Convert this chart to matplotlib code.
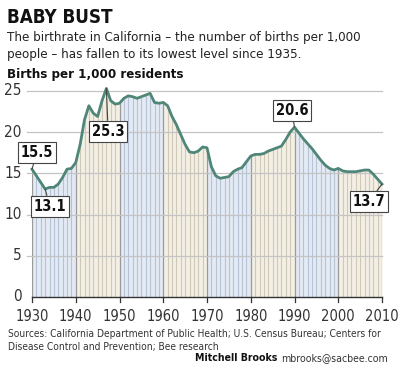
import matplotlib
matplotlib.use("Agg")
import matplotlib.pyplot as plt
import numpy as np

years = list(range(1930, 2011))
births = [15.5, 14.7, 13.9, 13.1, 13.3, 13.3, 13.7, 14.5, 15.5, 15.6,
          16.3, 18.5, 21.5, 23.2, 22.3, 21.9, 23.8, 25.3, 23.8, 23.4,
          23.5, 24.1, 24.4, 24.3, 24.1, 24.3, 24.5, 24.7, 23.6, 23.5,
          23.6, 23.2, 21.9, 20.9, 19.7, 18.5, 17.6, 17.5, 17.7, 18.2,
          18.1, 15.8, 14.7, 14.4, 14.5, 14.6, 15.2, 15.5, 15.7, 16.4,
          17.1, 17.3, 17.3, 17.4, 17.7, 17.9, 18.1, 18.3, 19.1, 20.0,
          20.6, 19.9, 19.2, 18.6, 18.0, 17.3, 16.6, 16.0, 15.6, 15.4,
          15.6, 15.3, 15.2, 15.2, 15.2, 15.3, 15.4, 15.4, 14.9, 14.3,
          13.7]
xticks = [1930, 1940, 1950, 1960, 1970, 1980, 1990, 2000, 2010]
yticks = [0, 5, 10, 15, 20, 25]
callouts = [(1930, 15.5, "15.5"), (1933, 13.1, "13.1"), (1947, 25.3, "25.3"),
            (1990, 20.6, "20.6"), (2010, 13.7, "13.7")]

plt.rcParams['font.family'] = ['DejaVu Sans']
plt.rcParams['font.stretch'] = 'condensed'

fig = plt.figure(figsize=(4.0, 3.74), dpi=100)
ax = fig.add_axes([0.08, 0.2059, 0.875, 0.5775])
ax.set_xlim(1930, 2010)
ax.set_ylim(0, 26.2)
ax.set_axis_off()

yrs = np.array(years)
vals = np.array(births)
fills = ['#e3eaf3', '#f3efe5']
lines = ['#b5c3d5', '#d0c9b7']
for i, d in enumerate(range(1930, 2010, 10)):
    m = (yrs >= d) & (yrs <= d + 10)
    ax.fill_between(yrs[m], 0, vals[m], color=fills[i % 2], lw=0, zorder=1)
    m2 = (yrs > d) & (yrs < d + 10)
    ax.vlines(yrs[m2], 0, vals[m2], colors=lines[i % 2], lw=0.8, zorder=2)
dec = np.array(xticks)
ax.vlines(dec, 0, vals[dec - 1930], colors='#9a9a9a', lw=0.9, zorder=2)

for yv in yticks[1:]:
    ax.plot([1928.8, 2010], [yv, yv], color='#c4c4c4', lw=0.9, zorder=3,
            clip_on=False)
    ax.text(1927.6, yv, str(yv), ha='right', va='center', fontsize=11,
            color='#333333')
ax.text(1927.6, 0, "0", ha='right', va='center', fontsize=11, color='#333333')
ax.plot([1930, 2010], [0, 0], color='#333333', lw=1.0, zorder=4, clip_on=False)
for xv in xticks:
    ax.plot([xv, xv], [0, -0.55], color='#333333', lw=0.9, clip_on=False)
    ax.text(xv, -1.5, str(xv), ha='center', va='top', fontsize=10.5,
            color='#333333')

ax.plot(yrs, vals, color='#4f8677', lw=2.0, zorder=6, solid_joinstyle='round',
        clip_on=False)

offsets = {"15.5": (1931.1, 17.5), "13.1": (1934.1, 11.0), "25.3": (1947.4, 20.1),
           "20.6": (1989.4, 22.6), "13.7": (2007.0, 11.6)}
for x, y, lab in callouts:
    tx, ty = offsets[lab]
    ax.annotate(lab, xy=(x, y), xytext=(tx, ty), ha='center', va='center',
                fontsize=10.5, fontweight='bold', color='#111111', zorder=8,
                bbox=dict(boxstyle='square,pad=0.2', fc='white', ec='#444444',
                          lw=0.8),
                arrowprops=dict(arrowstyle='-', color='#444444', lw=0.8,
                                shrinkA=0, shrinkB=0),
                annotation_clip=False)

fig.text(0.018, 0.953, "BABY BUST", fontsize=13.5, fontweight='bold',
         color='#111111', va='center', ha='left')
fig.text(0.018, 0.901, "The birthrate in California \u2013 the number of births per 1,000",
         fontsize=9.5, color='#222222', va='center', ha='left')
fig.text(0.018, 0.853, "people \u2013 has fallen to its lowest level since 1935.",
         fontsize=9.5, color='#222222', va='center', ha='left')
fig.text(0.018, 0.802, "Births per 1,000 residents", fontsize=9.5,
         fontweight='bold', color='#111111', va='center', ha='left')
fig.text(0.02, 0.107, "Sources: California Department of Public Health; U.S. Census Bureau; Centers for",
         fontsize=7.3, color='#333333', va='center', ha='left')
fig.text(0.02, 0.072, "Disease Control and Prevention; Bee research",
         fontsize=7.3, color='#333333', va='center', ha='left')
fig.text(0.97, 0.043, "mbrooks@sacbee.com", fontsize=7.6, color='#333333',
         va='center', ha='right')
fig.text(0.6925, 0.043, "Mitchell Brooks", fontsize=7.6, fontweight='bold',
         color='#111111', va='center', ha='right')

fig.savefig("out.png", dpi=100, facecolor='white')
